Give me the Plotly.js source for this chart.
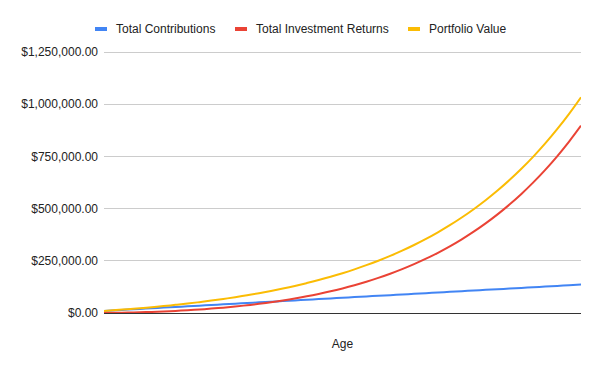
<!DOCTYPE html>
<html>
<head>
<meta charset="utf-8">
<script src="https://cdn.plot.ly/plotly-3.0.1.min.js"></script>
<style>
  html, body { margin: 0; padding: 0; background: #fff; }
  #chart { width: 600px; height: 371px; }
</style>
</head>
<body>
<div id="chart"></div>
<script>
// Ages (x-axis tick labels are hidden in the reference)
const ages = [25,26,27,28,29,30,31,32,33,34,35,36,37,38,39,40,41,42,43,44,45,
              46,47,48,49,50,51,52,53,54,55,56,57,58,59,60,61,62,63,64,65];

// Values in dollars
const totalContributions = [10000,13150,16300,19450,22600,25750,28900,32050,35200,38350,
  41500,44650,47800,50950,54100,57250,60400,63550,66700,69850,73000,76150,79300,82450,
  85600,88750,91900,95050,98200,101350,104500,107650,110800,113950,117100,120250,123400,
  126550,129700,132850,136000];

const totalInvestmentReturns = [0,800,1920,3370,5200,7420,10080,13190,16810,20980,
  25720,31100,37160,43960,51550,60000,69380,79760,91230,103860,117760,133020,149750,
  168080,188120,210020,233920,259990,288390,319320,352970,389570,429340,472550,519470,
  570400,625660,685580,750550,820970,897270];

const portfolioValue = [10000,13950,18220,22820,27800,33170,38980,45240,52010,59330,
  67220,75750,84960,94910,105650,117250,129780,143310,157930,173710,190760,209170,
  229050,250530,273720,298770,325820,355040,386590,420670,457470,497220,540140,586500,
  636570,690650,749060,812130,880250,953820,1033270];

const seriesNames = ["Total Contributions", "Total Investment Returns", "Portfolio Value"];
const seriesColors = ["#4285F4", "#EA4335", "#FBBC04"];
const yTickVals = [0, 250000, 500000, 750000, 1000000, 1250000];

const font = "Arial, 'Liberation Sans', sans-serif";
const seriesData = [totalContributions, totalInvestmentReturns, portfolioValue];

const traces = seriesData.map((vals, i) => ({
  type: "scatter",
  mode: "lines",
  x: ages,
  y: vals,
  name: seriesNames[i],
  line: { color: seriesColors[i], width: 2, shape: "spline", smoothing: 1 },
  hoverinfo: "skip",
  showlegend: false
}));

// Plot area geometry in pixels (for custom legend placement)
const PL = 104, PW = 477, PB = 313, PH = 262;
const legendX = [95, 235, 408];   // pixel positions of swatches
const legendY = 29;
const shapes = [];
const annotations = [];
legendX.forEach((px, i) => {
  shapes.push({
    type: "rect", xref: "paper", yref: "paper",
    x0: (px - PL) / PW, x1: (px + 12 - PL) / PW,
    y0: (PB - (legendY + 2)) / PH, y1: (PB - (legendY - 2)) / PH,
    fillcolor: seriesColors[i], line: { width: 0 }
  });
  annotations.push({
    xref: "paper", yref: "paper",
    x: (px + 19 - PL) / PW, y: (PB - legendY) / PH,
    xanchor: "left", yanchor: "middle",
    text: seriesNames[i], showarrow: false,
    font: { family: font, size: 12, color: "#222222" }
  });
});

const layout = {
  width: 600, height: 371,
  margin: { l: PL, r: 600 - PL - PW, t: PB - PH, b: 371 - PB },
  paper_bgcolor: "#ffffff",
  plot_bgcolor: "#ffffff",
  font: { family: font, size: 12, color: "#222222" },
  showlegend: false,
  xaxis: {
    range: [25, 65],
    showgrid: false,
    showticklabels: false,
    zeroline: false,
    showline: false,
    ticks: "",
    title: { text: "Age", font: { family: font, size: 12, color: "#222222" }, standoff: 26 }
  },
  yaxis: {
    range: [0, 1255000],
    tickvals: yTickVals,
    tickformat: "$,.2f",
    showgrid: true,
    gridcolor: "#cccccc",
    gridwidth: 1,
    zeroline: true,
    zerolinecolor: "#333333",
    zerolinewidth: 1,
    showline: false,
    ticks: "",
    ticklabelstandoff: 5,
    tickfont: { family: font, size: 12, color: "#222222" }
  },
  shapes: shapes,
  annotations: annotations
};

Plotly.newPlot("chart", traces, layout, { staticPlot: true, displayModeBar: false });
</script>
</body>
</html>
